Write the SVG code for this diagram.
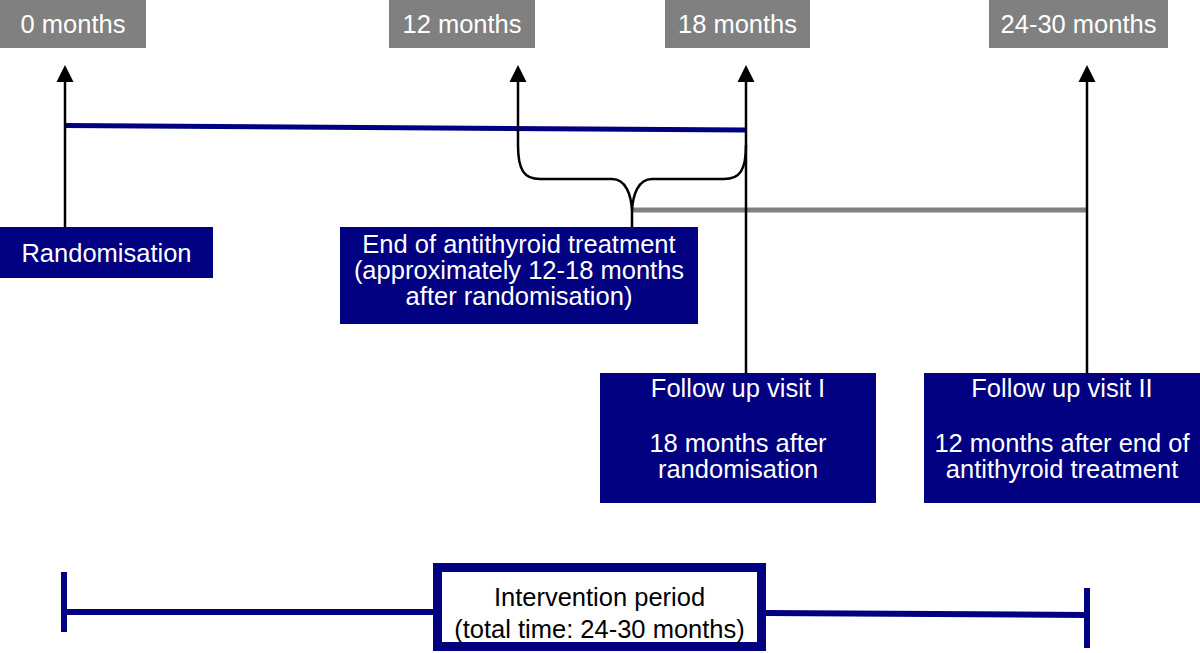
<svg xmlns="http://www.w3.org/2000/svg" width="1200" height="653" viewBox="0 0 1200 653">
<style>
.gbox{fill:#808080}
.bbox{fill:#000080}
.t{font-family:"Liberation Sans",Arial,sans-serif;font-size:25.5px;text-anchor:middle}
.w{fill:#ffffff}
.k{fill:#000000}
.arr{stroke:#000;stroke-width:2.5;fill:none}
</style>
<rect width="1200" height="653" fill="#ffffff"/>
<g id="connectors">
<line x1="65" y1="125.5" x2="746" y2="130" stroke="#000080" stroke-width="5"/>
<line x1="632" y1="210" x2="1087" y2="210" stroke="#808080" stroke-width="5"/>
<path class="arr" d="M65,227 V80"/>
<path class="arr" d="M632,227 V210 C631,195 626,179 612,179 H540 C524,179 518,170 518,145 V80"/>
<path class="arr" d="M632,210 C633,195 638,179 652,179 H724 C740,179 746,170 746,145"/>
<path class="arr" d="M746,373 V80"/>
<path class="arr" d="M1087,373 V80"/>
<polygon points="65,65 56.5,82 73.5,82" fill="#000"/>
<polygon points="518,65 509.5,82 526.5,82" fill="#000"/>
<polygon points="746,65 737.5,82 754.5,82" fill="#000"/>
<polygon points="1087,65 1078.5,82 1095.5,82" fill="#000"/>
<line x1="64" y1="572" x2="64" y2="632" stroke="#000080" stroke-width="6"/>
<line x1="64" y1="612" x2="434" y2="612" stroke="#000080" stroke-width="6"/>
<line x1="765" y1="613" x2="1087" y2="615" stroke="#000080" stroke-width="6"/>
<line x1="1087" y1="588" x2="1087" y2="648" stroke="#000080" stroke-width="6"/>
</g>
<g id="m0"><rect class="gbox" x="0" y="0" width="146" height="48"/><text class="t w" x="73" y="33">0 months</text></g>
<g id="m12"><rect class="gbox" x="389" y="0" width="146" height="48"/><text class="t w" x="462" y="33">12 months</text></g>
<g id="m18"><rect class="gbox" x="665" y="0" width="145" height="48"/><text class="t w" x="737.5" y="33">18 months</text></g>
<g id="m2430"><rect class="gbox" x="989" y="0" width="179" height="48"/><text class="t w" x="1078.5" y="33">24-30 months</text></g>
<g id="randomisation"><rect class="bbox" x="0" y="227" width="213" height="51"/><text class="t w" x="106.5" y="262">Randomisation</text></g>
<g id="endtreatment"><rect class="bbox" x="340" y="227" width="358" height="97"/>
<text class="t w" x="519" y="253">End of antithyroid treatment</text>
<text class="t w" x="519" y="279">(approximately 12-18 months</text>
<text class="t w" x="519" y="305">after randomisation)</text></g>
<g id="followup1"><rect class="bbox" x="600" y="373" width="276" height="130"/>
<text class="t w" x="738" y="397">Follow up visit I</text>
<text class="t w" x="738" y="452">18 months after</text>
<text class="t w" x="738" y="478">randomisation</text></g>
<g id="followup2"><rect class="bbox" x="924" y="373" width="276" height="130"/>
<text class="t w" x="1062" y="397">Follow up visit II</text>
<text class="t w" x="1062" y="452">12 months after end of</text>
<text class="t w" x="1062" y="478">antithyroid treatment</text></g>
<g id="intervention"><rect x="437.5" y="567.5" width="324" height="79" fill="#ffffff" stroke="#000080" stroke-width="9"/>
<text class="t k" x="599.5" y="606">Intervention period</text>
<text class="t k" x="599.5" y="638">(total time: 24-30 months)</text></g>
</svg>
